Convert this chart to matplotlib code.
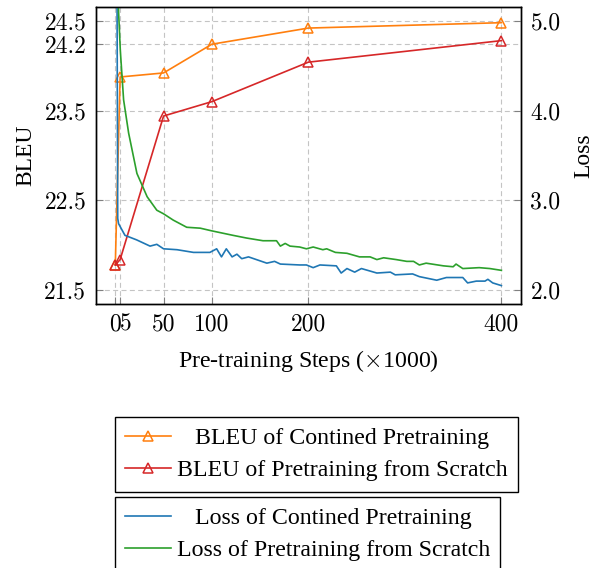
import matplotlib
matplotlib.use('Agg')
import matplotlib.pyplot as plt
from matplotlib.ticker import FixedLocator, FixedFormatter

plt.rcParams['font.family'] = ['Liberation Serif', 'DejaVu Serif']
plt.rcParams['mathtext.fontset'] = 'cm'
plt.rcParams['axes.formatter.use_mathtext'] = True

# BLEU evaluated at a few checkpoints
bleu_steps = [0, 5, 50, 100, 200, 400]
bleu_cont = [21.78, 23.875, 23.92, 24.24, 24.42, 24.48]
bleu_scratch = [21.78, 21.84, 23.44, 23.60, 24.04, 24.28]

# training loss curves
loss_cont_steps = [1, 2.5, 3.4, 10, 22, 36, 43, 50, 64, 81,
                   98, 105, 110, 115, 121, 126, 131, 138, 157, 165,
                   171, 191, 198, 205, 212, 229, 234, 240, 248, 255,
                   271, 285, 290, 308, 315, 333, 343, 360, 365, 374,
                   383, 386, 391, 400]
loss_cont = [8.0, 2.80, 2.74, 2.61, 2.56, 2.49, 2.51, 2.46, 2.45, 2.42,
             2.42, 2.46, 2.37, 2.46, 2.37, 2.40, 2.35, 2.37, 2.30, 2.32,
             2.29, 2.28, 2.28, 2.25, 2.28, 2.27, 2.19, 2.24, 2.20, 2.24,
             2.19, 2.20, 2.17, 2.18, 2.15, 2.11, 2.14, 2.14, 2.08, 2.10,
             2.10, 2.12, 2.08, 2.05]
loss_scratch_steps = [1, 3.4, 5.2, 8.6, 13.8, 22.4, 33, 43, 50, 60,
                      74, 88, 100, 122, 136, 153, 167, 171, 176, 181,
                      191, 198, 205, 215, 219, 228, 240, 253, 264, 271,
                      278, 291, 302, 309, 315, 322, 340, 350, 353, 360,
                      377, 388, 400]
loss_scratch = [9.0, 5.10, 4.67, 4.12, 3.75, 3.30, 3.04, 2.89, 2.85, 2.78,
                2.70, 2.69, 2.66, 2.61, 2.58, 2.55, 2.55, 2.49, 2.52, 2.49,
                2.48, 2.46, 2.48, 2.45, 2.46, 2.42, 2.41, 2.37, 2.37, 2.34,
                2.36, 2.34, 2.32, 2.32, 2.28, 2.30, 2.27, 2.26, 2.29, 2.24,
                2.25, 2.24, 2.22]

x_ticks = [0, 5, 50, 100, 200, 400]
x_ticklabels = ['0', '5', '50', '100', '200', '400']
bleu_ticks = [21.5, 22.5, 23.5, 24.24, 24.5]
bleu_ticklabels = ['21.5', '22.5', '23.5', '24.2', '24.5']
loss_ticks = [2.0, 3.0, 4.0, 5.0]
loss_ticklabels = ['2.0', '3.0', '4.0', '5.0']

fig = plt.figure(figsize=(5.97, 5.68), dpi=100)
ax = fig.add_axes([0.1608, 0.4648, 0.7114, 0.5229])
ax2 = ax.twinx()

l1, = ax.plot(bleu_steps, bleu_cont, color='#ff7f0e', lw=1.2, marker='^',
              ms=6.5, mfc='none', mew=1.1, label='BLEU of Contined Pretraining')
l2, = ax.plot(bleu_steps, bleu_scratch, color='#d62728', lw=1.2, marker='^',
              ms=6.5, mfc='none', mew=1.1, label='BLEU of Pretraining from Scratch')
l3, = ax2.plot(loss_cont_steps, loss_cont, color='#1f77b4', lw=1.2,
               label='Loss of Contined Pretraining')
l4, = ax2.plot(loss_scratch_steps, loss_scratch, color='#2ca02c', lw=1.2,
               label='Loss of Pretraining from Scratch')

ax.set_xlim(-20, 420)
ax.set_ylim(21.345, 24.655)
ax2.set_ylim(1.845, 5.155)

ax.xaxis.set_major_locator(FixedLocator(x_ticks))
ax.xaxis.set_major_formatter(FixedFormatter(x_ticklabels))
ax.yaxis.set_major_locator(FixedLocator(bleu_ticks))
ax.yaxis.set_major_formatter(FixedFormatter(bleu_ticklabels))
ax2.yaxis.set_major_locator(FixedLocator(loss_ticks))
ax2.yaxis.set_major_formatter(FixedFormatter(loss_ticklabels))

ax.grid(True, color='#c4c4c4', ls=(0, (4.5, 3)), lw=0.8)
ax.set_axisbelow(True)
for a in (ax, ax2):
    a.tick_params(direction='in', length=5, width=0.8, color='#808080',
                  labelsize=17, pad=7, labelfontfamily='cmr10')
    for s in a.spines.values():
        s.set_linewidth(1.0)
ax.tick_params(axis='y', right=False)
ax2.tick_params(axis='y', left=False)

# the "5" label sits just right of its tick so it reads "05" next to "0"
ax.xaxis.get_major_ticks()[1].label1.set_horizontalalignment('left')

ax.set_xlabel(r'Pre-training Steps ($\times$1000)', fontsize=17.2, labelpad=9)
ax.set_ylabel('BLEU', fontsize=17, labelpad=6)
ax2.set_ylabel('Loss', fontsize=17, labelpad=9)

leg_kw = dict(loc='upper left', bbox_transform=fig.transFigure,
              fontsize=17.2, fancybox=False, framealpha=1, edgecolor='black',
              handlelength=1.9, handletextpad=0.25, borderpad=0.43,
              labelspacing=0.45, borderaxespad=0)
leg1 = fig.legend(handles=[l1, l2], bbox_to_anchor=(0.1926, 0.2658), **leg_kw)
leg2 = fig.legend(handles=[l3, l4], bbox_to_anchor=(0.1926, 0.125), **leg_kw)

# centre the legend texts in their column, like pgfplots does
fig.canvas.draw()
renderer = fig.canvas.get_renderer()
for leg in (leg1, leg2):
    leg.get_frame().set_linewidth(1.0)
    widths = [t.get_window_extent(renderer).width for t in leg.get_texts()]
    w_max = max(widths)
    for t, w in zip(leg.get_texts(), widths):
        t.set_position(((w_max - w) / 2, 0))

fig.savefig('out.png', dpi=100)
